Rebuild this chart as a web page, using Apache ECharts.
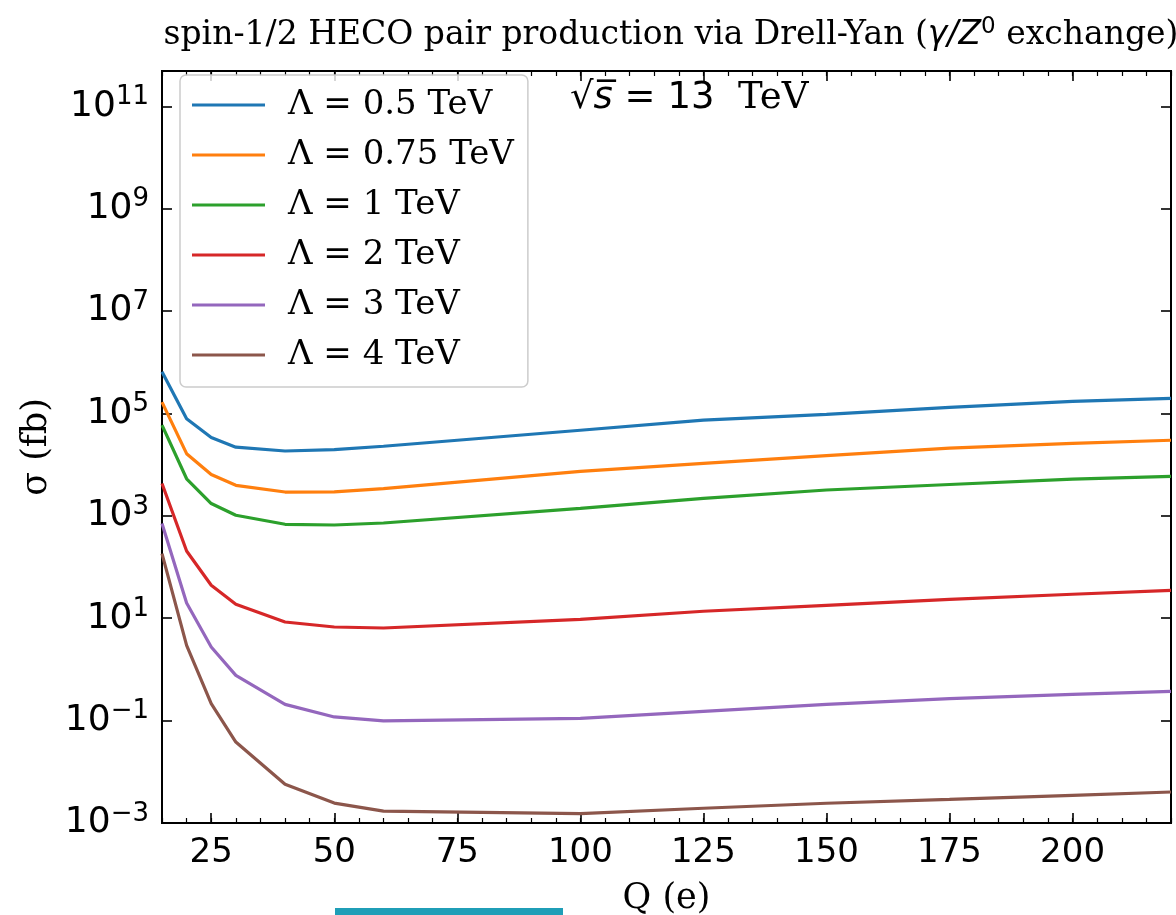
<!DOCTYPE html>
<html>
<head>
<meta charset="utf-8">
<script src="https://cdn.jsdelivr.net/npm/echarts@6/dist/echarts.min.js"></script>
<style>
html,body{margin:0;padding:0;background:#fff;}
#chart{width:1176px;height:915px;}
</style>
</head>
<body>
<div id="chart"></div>
<script>
// Charge Q (e)
const qValues = [15, 20, 25, 30, 40, 50, 60, 100, 125, 150, 175, 200, 220];
// cross sections sigma (fb)
const sigmaL05  = [6.5e5, 7.9e4, 3.4e4, 2.2e4, 1.85e4, 1.97e4, 2.29e4, 4.7e4, 7.4e4, 9.6e4, 1.32e5, 1.73e5, 1.98e5];
const sigmaL075 = [1.67e5, 1.64e4, 6.4e3, 3.95e3, 2.92e3, 2.95e3, 3.4e3, 7.4e3, 1.06e4, 1.5e4, 2.1e4, 2.6e4, 3.0e4];
const sigmaL1   = [5.9e4, 5.3e3, 1.74e3, 1.03e3, 684, 663, 726, 1.4e3, 2.2e3, 3.2e3, 4.1e3, 5.2e3, 5.9e3];
const sigmaL2   = [4.3e3, 206, 44, 18.7, 8.45, 6.74, 6.45, 9.5, 13.7, 17.9, 23.4, 29.4, 35];
const sigmaL3   = [706, 19.9, 2.74, 0.767, 0.208, 0.118, 0.0985, 0.111, 0.152, 0.207, 0.27, 0.325, 0.374];
const sigmaL4   = [183, 2.96, 0.215, 0.0382, 0.0057, 0.00245, 0.00171, 0.00153, 0.00194, 0.00243, 0.0029, 0.00348, 0.00403];

const seriesNames = ['Λ = 0.5 TeV', 'Λ = 0.75 TeV', 'Λ = 1 TeV', 'Λ = 2 TeV', 'Λ = 3 TeV', 'Λ = 4 TeV'];
const seriesColors = ['#1f77b4', '#ff7f0e', '#2ca02c', '#d62728', '#9467bd', '#8c564b'];
const seriesValues = [sigmaL05, sigmaL075, sigmaL1, sigmaL2, sigmaL3, sigmaL4];

const xTicks = [25, 50, 75, 100, 125, 150, 175, 200];

const chart = echarts.init(document.getElementById('chart'), null, {renderer: 'canvas'});

const SERIF = 'DejaVu Serif';
const SANS = 'DejaVu Sans';

function yLabel(v) {
  const e = Math.log10(v);
  const r = Math.round(e);
  if (Math.abs(e - r) > 1e-6) return '';
  const exp = String(r).replace('-', '−');
  return '{b|10}{s|' + exp + '}';
}

const axisLineCommon = {show: true, lineStyle: {color: '#000', width: 2}};
const majorTick = {show: true, inside: true, length: 10, lineStyle: {color: '#000', width: 1.6}};
const minorTickAsTick = {show: true, inside: true, length: 5, lineStyle: {color: '#000', width: 1.2}};

function xAxisMinor(pos, showLabels) {
  return {
    type: 'value', min: 15, max: 220, interval: 5, position: pos,
    axisLine: axisLineCommon,
    axisTick: minorTickAsTick,
    splitLine: {show: false},
    axisLabel: showLabels ? {
      customValues: xTicks,
      fontFamily: SANS, fontSize: 34, color: '#000', margin: 13
    } : {show: false},
    name: showLabels ? 'Q (e)' : '',
    nameLocation: 'middle', nameGap: 58,
    nameTextStyle: {fontFamily: SERIF, fontSize: 35, color: '#000'}
  };
}
function xAxisMajor(pos) {
  return {
    type: 'value', min: 15, max: 220, position: pos,
    axisLine: axisLineCommon,
    axisTick: Object.assign({customValues: xTicks}, majorTick),
    splitLine: {show: false},
    axisLabel: {show: false}
  };
}

const option = {
  backgroundColor: '#ffffff',
  animation: false,
  title: {
    text: '{n|spin-1/2 HECO pair production via Drell-Yan (}{m|γ/Z}{sup|0}{n| exchange)}',
    left: 666,
    top: 11,
    textAlign: 'center',
    textStyle: {
      fontFamily: SERIF, fontSize: 33, fontWeight: 'normal', color: '#000',
      rich: {
        n: {fontFamily: SERIF, fontSize: 33, color: '#000'},
        m: {fontFamily: SANS, fontSize: 33, fontStyle: 'italic', color: '#000'},
        sup: {fontFamily: SANS, fontSize: 23, color: '#000', padding: [0, 0, 16, 0]}
      }
    }
  },
  grid: {left: 162, right: 5, top: 71, bottom: 92, outerBoundsMode: 'none', containLabel: false,
         show: true, borderColor: '#000', borderWidth: 2, backgroundColor: 'transparent'},
  legend: {
    orient: 'vertical',
    left: 180,
    top: 75,
    padding: [10, 14, 12, 12],
    icon: 'rect',
    itemWidth: 73,
    itemHeight: 3,
    itemGap: 10,
    backgroundColor: 'rgba(255,255,255,0.8)',
    borderColor: '#cccccc',
    borderWidth: 1.5,
    borderRadius: 6,
    data: seriesNames,
    textStyle: {fontFamily: SERIF, fontSize: 34, color: '#000', lineHeight: 40, padding: [0, 0, 0, 18]}
  },
  xAxis: [xAxisMinor('bottom', true), xAxisMajor('bottom'), xAxisMinor('top', false), xAxisMajor('top')],
  yAxis: [{
    type: 'log', logBase: 10, min: 1e-3, max: 4.9e11, interval: 2, position: 'left',
    axisLine: axisLineCommon,
    axisTick: majorTick,
    minorTick: {show: false},
    splitLine: {show: false},
    axisLabel: {
      color: '#000', margin: 13, showMaxLabel: false,
      formatter: yLabel,
      rich: {
        b: {fontFamily: SANS, fontSize: 36, color: '#000'},
        s: {fontFamily: SANS, fontSize: 26, color: '#000', padding: [0, 0, 18, 0]}
      }
    },
    name: 'σ (fb)', nameLocation: 'middle', nameGap: 108, nameRotate: 90,
    nameTextStyle: {fontFamily: SERIF, fontSize: 35, color: '#000'}
  }, {
    type: 'log', logBase: 10, min: 1e-3, max: 4.9e11, interval: 2, position: 'right',
    axisLine: axisLineCommon,
    axisTick: majorTick,
    minorTick: {show: false},
    splitLine: {show: false},
    axisLabel: {show: false}
  }],
  graphic: [{
    type: 'text', left: 570, top: 80,
    style: {
      text: '{m|√}{i|s̅}{m| = 13}{t|  TeV}',
      rich: {
        m: {fontFamily: SANS, fontSize: 37, fill: '#000'},
        i: {fontFamily: SANS, fontSize: 37, fontStyle: 'italic', fill: '#000'},
        t: {fontFamily: SERIF, fontSize: 37, fill: '#000'}
      }
    }
  }, {
    type: 'rect', shape: {x: 335, y: 908, width: 228, height: 7}, style: {fill: '#1f9eb7'}
  }],
  series: seriesNames.map((name, i) => ({
    name: name,
    type: 'line',
    xAxisIndex: 0,
    yAxisIndex: 0,
    symbol: 'none',
    smooth: false,
    color: seriesColors[i],
    lineStyle: {color: seriesColors[i], width: 3.2},
    data: qValues.map((q, j) => [q, seriesValues[i][j]])
  }))
};
chart.setOption(option);
</script>
</body>
</html>
